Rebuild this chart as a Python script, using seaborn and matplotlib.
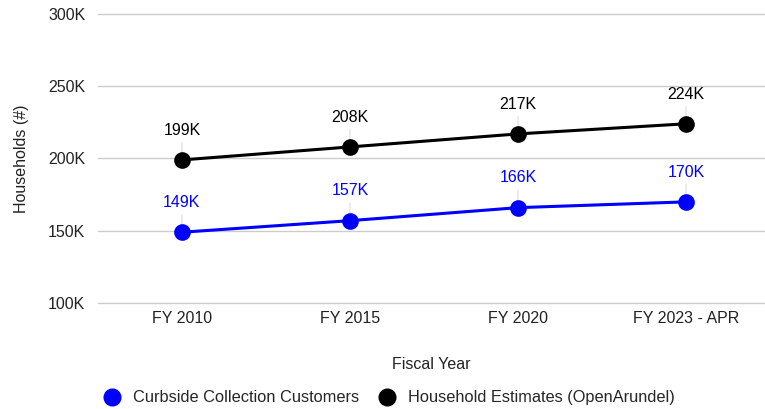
import matplotlib
matplotlib.use("Agg")
import matplotlib.pyplot as plt
import seaborn as sns
import pandas as pd
from matplotlib.ticker import FuncFormatter
from matplotlib.lines import Line2D

categories = ["FY 2010", "FY 2015", "FY 2020", "FY 2023 - APR"]
curbside = [149000, 157000, 166000, 170000]
households = [199000, 208000, 217000, 224000]
series_names = ["Curbside Collection Customers", "Household Estimates (OpenArundel)"]
colors = ["#0000ff", "#000000"]

sns.set_theme(style="white")
plt.rcParams['font.family'] = ['Liberation Sans', 'DejaVu Sans']

df = pd.DataFrame({
    "year": categories * 2,
    "x": list(range(len(categories))) * 2,
    "value": curbside + households,
    "series": [series_names[0]] * 4 + [series_names[1]] * 4,
})

fig = plt.figure(figsize=(7.65, 4.09), dpi=100)
ax = fig.add_axes([0.128, 0.259, 0.872, 0.707])

sns.lineplot(data=df, x="x", y="value", hue="series", palette=dict(zip(series_names, colors)),
             marker="o", markersize=12, markeredgewidth=0, linewidth=2.2, ax=ax, legend=False, zorder=3)

for vals, col in zip([curbside, households], colors):
    for i, v in enumerate(vals):
        ax.annotate(f"{v//1000}K", xy=(i, v), xytext=(0, 16), textcoords="offset points",
                    ha="center", va="bottom", color=col, fontsize=11.5,
                    arrowprops=dict(arrowstyle="-", color="#dddddd", lw=0.8, shrinkA=1, shrinkB=0),
                    zorder=2)

ax.set_ylim(100000, 300000)
ax.set_yticks([100000, 150000, 200000, 250000, 300000])
ax.yaxis.set_major_formatter(FuncFormatter(lambda v, p: f"{int(v/1000)}K"))
ax.set_xlim(-0.5, 3.47)
ax.set_xticks(range(len(categories)))
ax.set_xticklabels(categories)
ax.grid(axis="y", color="#cccccc", linewidth=1)
for gl in ax.get_ygridlines():
    gl.set_clip_on(False)
ax.set_axisbelow(True)
for s in ax.spines.values():
    s.set_visible(False)
ax.tick_params(axis="both", length=0, labelsize=11.5, colors="#222222")
ax.tick_params(axis="x", pad=6)
ax.tick_params(axis="y", pad=9)
ax.set_xlabel("Fiscal Year", fontsize=11.5, color="#222222", labelpad=22)
ax.set_ylabel("Households (#)", fontsize=11.5, color="#222222", labelpad=14)

handles = [Line2D([], [], marker="o", linestyle="", color=c, markersize=12) for c in colors]
fig.legend(handles, series_names, loc="center", bbox_to_anchor=(0.5035, 0.027), ncol=2,
           frameon=False, fontsize=11.8, handletextpad=0.3, columnspacing=0.7)

fig.savefig("out.png", dpi=100)
